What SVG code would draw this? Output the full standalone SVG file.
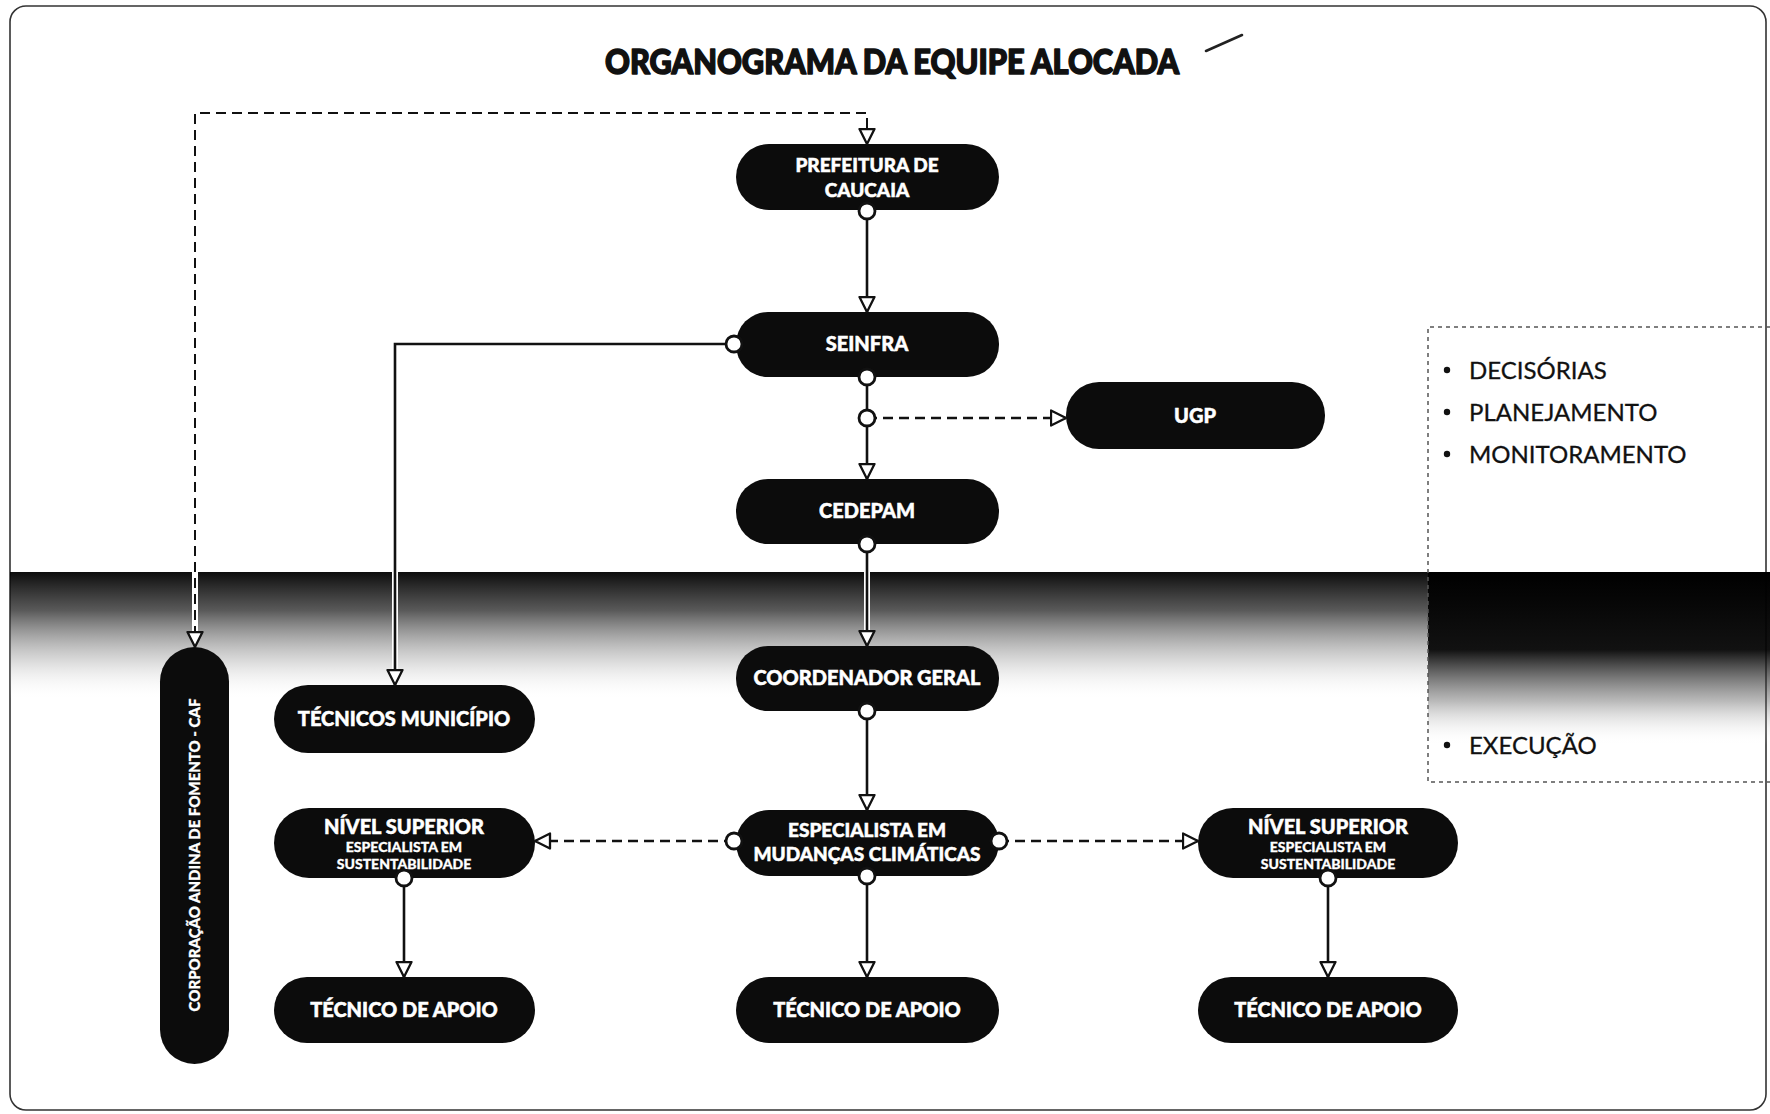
<svg xmlns="http://www.w3.org/2000/svg" width="1770" height="1114" viewBox="0 0 1770 1114">
<style>
.node rect{fill:#0c0c0c;}
.lbl{font-family:Lato,"Open Sans","DejaVu Sans",sans-serif;font-weight:900;fill:#fff;stroke:#fff;stroke-width:0.5;text-anchor:middle;}
.side{font-family:Lato,"Open Sans","DejaVu Sans",sans-serif;font-weight:400;fill:#111;font-size:24px;stroke:#111;stroke-width:0.3;}
.case{fill:none;stroke:#fff;stroke-width:6;}
.solid{fill:none;stroke:#111;stroke-width:2.6;marker-start:url(#dot);marker-end:url(#arr);}
.dash{fill:none;stroke:#111;stroke-width:2.4;stroke-dasharray:10 6;marker-start:url(#dot);marker-end:url(#arr);}
</style>
<defs>
<marker id="arr" viewBox="0 0 18 18" refX="16.5" refY="9" markerWidth="18" markerHeight="18" markerUnits="userSpaceOnUse" orient="auto-start-reverse">
<path d="M1.5,1.5 L16.5,9 L1.5,16.5 Z" fill="#fff" stroke="#111" stroke-width="2.3" stroke-linejoin="round"/>
</marker>
<marker id="dot" viewBox="0 0 20 20" refX="10" refY="10" markerWidth="20" markerHeight="20" markerUnits="userSpaceOnUse">
<circle cx="10" cy="10" r="8" fill="#fff" stroke="#111" stroke-width="2.8"/>
</marker>
<linearGradient id="bandL" x1="0" y1="572" x2="0" y2="700" gradientUnits="userSpaceOnUse">
<stop offset="0" stop-color="#000" stop-opacity="0.95"/>
<stop offset="0.3" stop-color="#222" stop-opacity="0.75"/>
<stop offset="0.7" stop-color="#888" stop-opacity="0.3"/>
<stop offset="1" stop-color="#fff" stop-opacity="0"/>
</linearGradient>
<linearGradient id="bandR" x1="0" y1="572" x2="0" y2="745" gradientUnits="userSpaceOnUse">
<stop offset="0" stop-color="#000" stop-opacity="1"/>
<stop offset="0.45" stop-color="#050505" stop-opacity="0.95"/>
<stop offset="0.75" stop-color="#555" stop-opacity="0.4"/>
<stop offset="1" stop-color="#fff" stop-opacity="0"/>
</linearGradient>
</defs>
<rect x="0" y="0" width="1770" height="1114" fill="#fff"/>
<rect x="10" y="6" width="1756" height="1104" rx="16" fill="none" stroke="#333" stroke-width="1.6"/>
<rect x="10" y="572" width="1418" height="128" fill="url(#bandL)"/>
<rect x="1428" y="572" width="342" height="173" fill="url(#bandR)"/>
<text x="892" y="74" font-family="Lato,'Open Sans','DejaVu Sans',sans-serif" font-weight="900" font-size="35" fill="#111" stroke="#111" stroke-width="1.6" stroke-linejoin="round" text-anchor="middle" textLength="574" lengthAdjust="spacingAndGlyphs">ORGANOGRAMA DA EQUIPE ALOCADA</text>
<path d="M1206,51 L1242,35" stroke="#222" stroke-width="2.6" stroke-linecap="round" fill="none"/>
<g id="panel">
<path d="M1770,327 L1428,327 L1428,782 L1770,782" fill="none" stroke="#555" stroke-width="1.5" stroke-dasharray="4 4"/>
<circle cx="1447" cy="370" r="3.2" fill="#111"/>
<text class="side" x="1469" y="379">DECISÓRIAS</text>
<circle cx="1447" cy="412" r="3.2" fill="#111"/>
<text class="side" x="1469" y="421">PLANEJAMENTO</text>
<circle cx="1447" cy="454" r="3.2" fill="#111"/>
<text class="side" x="1469" y="463">MONITORAMENTO</text>
<circle cx="1447" cy="745" r="3.2" fill="#111"/>
<text class="side" x="1469" y="754">EXECUÇÃO</text>
</g>
<g id="n-prefeitura" class="node">
<rect x="736" y="144" width="263" height="66" rx="33"/>
<text class="lbl" x="867" y="172" font-size="19">PREFEITURA DE</text>
<text class="lbl" x="867" y="197" font-size="19">CAUCAIA</text>
</g>
<g id="n-seinfra" class="node">
<rect x="736" y="312" width="263" height="65" rx="32"/>
<text class="lbl" x="867" y="351" font-size="20">SEINFRA</text>
</g>
<g id="n-ugp" class="node">
<rect x="1066" y="382" width="259" height="67" rx="33"/>
<text class="lbl" x="1195" y="423" font-size="20">UGP</text>
</g>
<g id="n-cedepam" class="node">
<rect x="736" y="479" width="263" height="65" rx="32"/>
<text class="lbl" x="867" y="518" font-size="20">CEDEPAM</text>
</g>
<g id="n-coord" class="node">
<rect x="736" y="646" width="263" height="65" rx="32"/>
<text class="lbl" x="867" y="685" font-size="20">COORDENADOR GERAL</text>
</g>
<g id="n-especialista" class="node">
<rect x="736" y="810" width="263" height="66" rx="33"/>
<text class="lbl" x="867" y="837" font-size="19">ESPECIALISTA EM</text>
<text class="lbl" x="867" y="861" font-size="19">MUDANÇAS CLIMÁTICAS</text>
</g>
<g id="n-tecnico-c" class="node">
<rect x="736" y="977" width="263" height="66" rx="33"/>
<text class="lbl" x="867" y="1017" font-size="20">TÉCNICO DE APOIO</text>
</g>
<g id="n-tecnicos-mun" class="node">
<rect x="274" y="685" width="261" height="68" rx="34"/>
<text class="lbl" x="404" y="726" font-size="20">TÉCNICOS MUNICÍPIO</text>
</g>
<g id="n-nivel-l" class="node">
<rect x="274" y="808" width="261" height="70" rx="35"/>
<text class="lbl" x="404" y="834" font-size="20">NÍVEL SUPERIOR</text>
<text class="lbl" x="404" y="852" font-size="14" style="stroke-width:0.3">ESPECIALISTA EM</text>
<text class="lbl" x="404" y="869" font-size="14" style="stroke-width:0.3">SUSTENTABILIDADE</text>
</g>
<g id="n-tecnico-l" class="node">
<rect x="274" y="977" width="261" height="66" rx="33"/>
<text class="lbl" x="404" y="1017" font-size="20">TÉCNICO DE APOIO</text>
</g>
<g id="n-nivel-r" class="node">
<rect x="1198" y="808" width="260" height="70" rx="35"/>
<text class="lbl" x="1328" y="834" font-size="20">NÍVEL SUPERIOR</text>
<text class="lbl" x="1328" y="852" font-size="14" style="stroke-width:0.3">ESPECIALISTA EM</text>
<text class="lbl" x="1328" y="869" font-size="14" style="stroke-width:0.3">SUSTENTABILIDADE</text>
</g>
<g id="n-tecnico-r" class="node">
<rect x="1198" y="977" width="260" height="66" rx="33"/>
<text class="lbl" x="1328" y="1017" font-size="20">TÉCNICO DE APOIO</text>
</g>
<g id="n-caf" class="node">
<rect x="160" y="647" width="69" height="417" rx="34.5"/>
<text class="lbl" x="0" y="0" font-size="15" style="stroke-width:0.3" transform="translate(200,855) rotate(-90)">CORPORAÇÃO ANDINA DE FOMENTO - CAF</text>
</g>
<g id="connectors">
<path class="case" d="M195,113 L195,640"/>
<path class="case" d="M395,344 L395,678"/>
<path class="case" d="M867,552 L867,640"/>
<path class="dash" style="marker-start:url(#arr);stroke-width:2" d="M867,144 L867,113 L195,113 L195,647"/>
<path class="solid" d="M867,211 L867,312"/>
<path class="solid" d="M734,344 L395,344 L395,685"/>
<path class="solid" d="M867,377 L867,479"/>
<path class="dash" d="M867,418 L1066,418"/>
<path class="solid" d="M867,544 L867,646"/>
<path class="solid" d="M867,711 L867,810"/>
<path class="dash" d="M734,841 L535,841"/>
<path class="dash" d="M999,841 L1198,841"/>
<path class="solid" d="M867,876 L867,977"/>
<path class="solid" d="M404,878 L404,977"/>
<path class="solid" d="M1328,878 L1328,977"/>
</g>
</svg>
